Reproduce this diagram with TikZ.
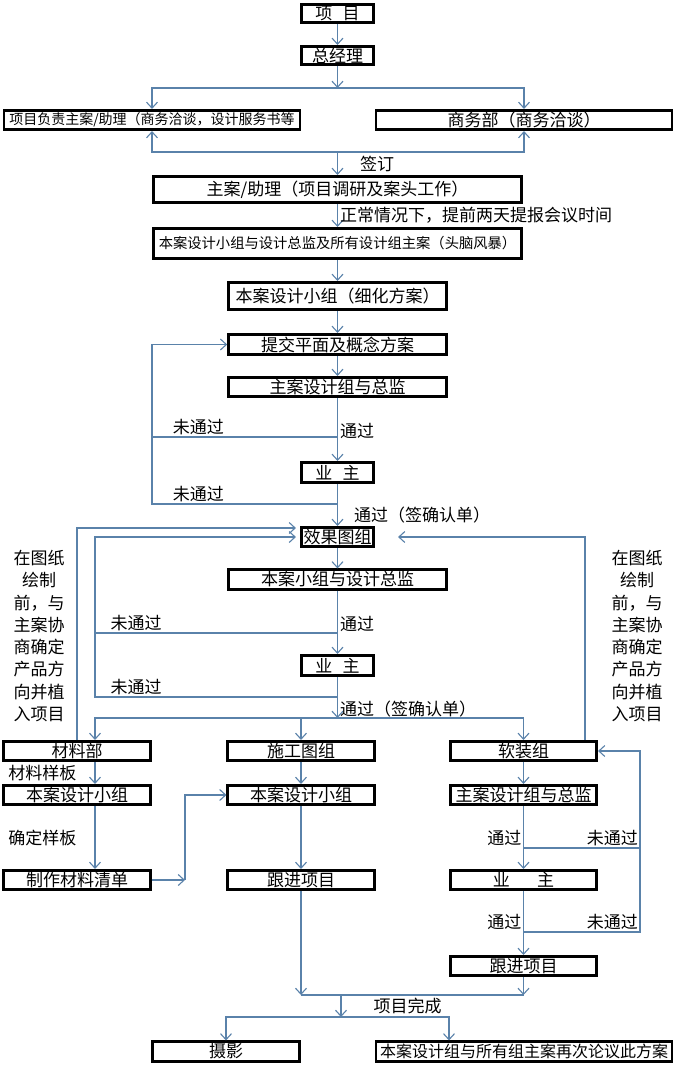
\documentclass[tikz,border=0pt]{standalone}
\usepackage{fontspec}
\setmainfont{Noto Sans CJK SC}
\usepackage{tikz}
\usetikzlibrary{arrows.meta, positioning}
\definecolor{flowline}{HTML}{5A82AA}

\begin{document}
\begin{tikzpicture}[x=1pt, y=-1pt,
    block/.style={rectangle, draw, line width=2.6pt, fill=white, inner sep=0pt, minimum height=19.5pt, font=\fontsize{17}{20}\selectfont},
    unit/.style={block, minimum width=72.5pt},
    dept/.style={block, minimum width=146.5pt},
    stage/.style={block, minimum width=218pt},
    wide/.style={block, minimum width=296pt},
    full/.style={block, minimum width=368pt},
    wire/.style={draw=flowline, line width=1.1pt},
    arrow/.style={wire, -{Straight Barb[length=6pt, width=11pt]}},
    lbl/.style={font=\fontsize{17}{20}\selectfont, inner sep=2pt}]

    \path [fill=white, use as bounding box] (0,0) rectangle (676,1068);

    \node (xm) [unit, minimum height=18.5pt] at (337.5,13.5) {项\hspace{0.6em}目};
    \node (zjl) [unit, minimum height=18.5pt] at (337.5,55.5) {总经理};
    \node (fzr) [wide, font=\fontsize{14}{16}\selectfont] at (152,120) {项目负责主案/助理（商务洽谈，设计服务书等};
    \node (swb) [wide] at (524,120) {商务部（商务洽谈）};
    \node (za) [full, minimum height=26.5pt] at (337.5,189.5) {主案/助理（项目调研及案头工作）};
    \node (ttfb) [full, minimum height=30.5pt, font=\fontsize{14.3}{16}\selectfont] at (337.5,243.5) {本案设计小组与设计总监及所有设计组主案（头脑风暴）};
    \node (xhfa) [stage, minimum height=27.5pt] at (337.5,296) {本案设计小组（细化方案）};
    \node (tjfa) [stage, minimum height=20.5pt] at (337.5,344.5) {提交平面及概念方案};
    \node (zazj) [stage] at (337.5,387) {主案设计组与总监};
    \node (yz1) [unit, minimum height=20.5pt] at (337.5,472.5) {业\hspace{0.6em}主};
    \node (xgt) [unit] at (337.5,537) {效果图组};
    \node (bxzj) [stage] at (337.5,579.5) {本案小组与设计总监};
    \node (yz2) [unit, minimum height=20.5pt] at (337.5,665.5) {业\hspace{0.6em}主};

    \node (clb) [dept] at (77,751) {材料部};
    \node (sgt) [dept] at (301,751) {施工图组};
    \node (rzz) [dept] at (523.5,751) {软装组};
    \node (bxa) [dept] at (77,795) {本案设计小组};
    \node (bxb) [dept] at (301,795) {本案设计小组};
    \node (zazj2) [dept] at (523.5,795) {主案设计组与总监};
    \node (qd) [dept] at (77,880) {制作材料清单};
    \node (gja) [dept] at (301,880) {跟进项目};
    \node (yz3) [dept] at (523.5,880) {业\hspace{1.6em}主};
    \node (gjb) [dept] at (523.5,966) {跟进项目};
    \node (sy) [dept] at (226,1051.5) {摄影};
    \node (zlun) [wide, font=\fontsize{16}{18}\selectfont] at (524,1051.5) {本案设计组与所有组主案再次论议此方案};

    \node (zsl) [lbl, align=center, font=\fontsize{17}{22.3}\selectfont] at (39,636) {在图纸\\绘制\\前，与\\主案协\\商确定\\产品方\\向并植\\入项目};
    \node (zsr) [lbl, align=center, font=\fontsize{17}{22.3}\selectfont] at (637,636) {在图纸\\绘制\\前，与\\主案协\\商确定\\产品方\\向并植\\入项目};

    \coordinate (fen) at (337.5,88);
    \coordinate (qian) at (337.5,152);
    \coordinate (hb1) at (337.5,437);
    \coordinate (hl1) at (152,437);
    \coordinate (hb2) at (337.5,504);
    \coordinate (hl2) at (152,504);
    \coordinate (hb3) at (337.5,633);
    \coordinate (hl3) at (95,633);
    \coordinate (hb4) at (337.5,697);
    \coordinate (hl4) at (95,697);
    \coordinate (fen2) at (337.5,718);
    \coordinate (zq) at (185,880);
    \coordinate (hz1) at (301,995);
    \coordinate (hz2) at (523.5,995);
    \coordinate (hz) at (341,995);
    \coordinate (wc) at (341,1017);
    \coordinate (rb1) at (523.5,848);
    \coordinate (rr1) at (640,848);
    \coordinate (rb2) at (523.5,932);
    \coordinate (rr2) at (640,932);

    \draw [arrow] (xm) -- (zjl);
    \draw [arrow] (zjl) -- (fen);
    \draw [arrow] (fen) -| (fzr);
    \draw [arrow] (fen) -| (swb);
    \draw [arrow] (qian) -| (fzr);
    \draw [arrow] (qian) -| (swb);
    \draw [arrow] (qian) -- node[lbl, right, xshift=20pt] {签订} (za);
    \draw [arrow] (za) -- node[lbl, right] {正常情况下，提前两天提报会议时间} (ttfb);
    \draw [arrow] (ttfb) -- (xhfa);
    \draw [arrow] (xhfa) -- (tjfa);
    \draw [arrow] (tjfa) -- (zazj);
    \draw [arrow] (zazj) -- node[lbl, right, pos=0.52] {通过} (yz1);
    \draw [wire] (hb1) -- node[lbl, above, pos=0.75] {未通过} (hl1);
    \draw [arrow] (hb2) -- node[lbl, above, pos=0.75] {未通过} (hl2) |- (tjfa);
    \draw [arrow] (yz1) -- node[lbl, right, pos=0.74, xshift=14pt] {通过（签确认单）} (xgt);

    \draw [arrow, shorten >=4pt] (clb) |- ([yshift=9pt]xgt.west);
    \draw [wire] (hb3) -- node[lbl, above, pos=0.83] {未通过} (hl3);
    \draw [arrow, shorten >=4pt] (hb4) -- node[lbl, above, pos=0.83] {未通过} (hl4) |- (xgt);
    \draw [arrow, shorten >=23pt] ([xshift=61.5pt]rzz.north) |- (xgt);
    \draw [arrow] (xgt) -- (bxzj);
    \draw [arrow] (bxzj) -- node[lbl, right, pos=0.52] {通过} (yz2);
    \draw [arrow] (yz2) -- node[lbl, right, pos=0.78] {通过（签确认单）} (fen2);
    \draw [arrow] (fen2) -| ([xshift=18pt]clb.north);
    \draw [arrow] (fen2) -| (sgt);
    \draw [arrow] (fen2) -| (rzz);

    \draw [arrow] ([xshift=18pt]clb.south) -- node[lbl, left=16pt] {材料样板} ([xshift=18pt]bxa.north);
    \draw [arrow] ([xshift=18pt]bxa.south) -- node[lbl, left=16pt] {确定样板} ([xshift=18pt]qd.north);
    \draw [arrow] (qd) -- (zq);
    \draw [arrow] (zq) |- (bxb);
    \draw [arrow] (sgt) -- (bxb);
    \draw [arrow] (bxb) -- (gja);
    \draw [arrow] (gja) -- (hz1);
    \draw [wire] (hz1) -- (hz2);
    \draw [arrow] (gjb) -- (hz2);
    \draw [arrow] (hz) -- node[lbl, right, xshift=30pt] {项目完成} (wc);
    \draw [arrow] (wc) -| (sy);
    \draw [arrow] (wc) -| ([xshift=-75pt]zlun.north);

    \draw [arrow] (rzz) -- (zazj2);
    \draw [arrow] (zazj2) -- (yz3);
    \draw [arrow] (yz3) -- (gjb);
    \draw [wire] (rb1) -- (rr1);
    \draw [arrow] (rb2) -- (rr2) |- (rzz);
    \node (tg1) [lbl, anchor=south east] at (rb1) {通过};
    \node (wt1) [lbl, anchor=south east] at (rr1) {未通过};
    \node (tg2) [lbl, anchor=south east] at (rb2) {通过};
    \node (wt2) [lbl, anchor=south east] at (rr2) {未通过};
\end{tikzpicture}
\end{document}
